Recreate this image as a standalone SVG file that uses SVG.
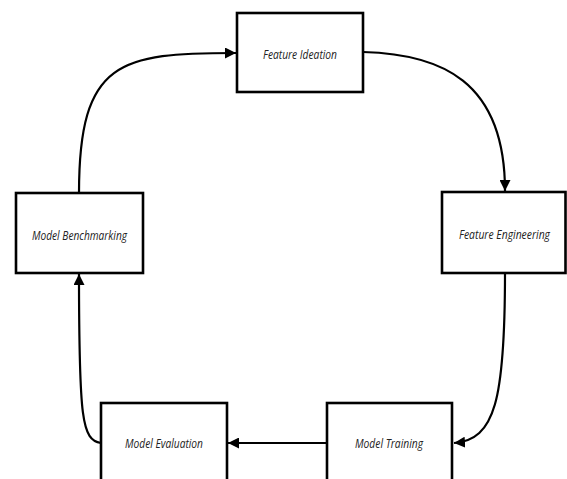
<svg xmlns="http://www.w3.org/2000/svg" width="567" height="479" viewBox="0 0 567 479">
<style>
.box{fill:#fff;stroke:#000;stroke-width:2.6}
.lbl{font-family:"Open Sans","DejaVu Sans",sans-serif;font-style:italic;font-size:13px;fill:#222;text-anchor:middle}
.con{fill:none;stroke:#000;stroke-width:2.2}
</style>
<defs>
<marker id="ah" viewBox="0 0 10 10" refX="10" refY="5" markerWidth="5" markerHeight="5" orient="auto" markerUnits="strokeWidth">
<path d="M0,0 L10,5 L0,10 z" fill="#000"/>
</marker>
</defs>
<rect width="567" height="479" fill="#fff"/>
<g id="connectors">
<path class="con" d="M79,193 C79,60 120,53 236,53" marker-end="url(#ah)"/>
<path class="con" d="M363,52 C440,54 505,80 505,191" marker-end="url(#ah)"/>
<path class="con" d="M505,273 C505,400 495,440 454,443" marker-end="url(#ah)"/>
<path class="con" d="M327,443 L228,443" marker-end="url(#ah)"/>
<path class="con" d="M101,443 C82,440 79,420 79,274" marker-end="url(#ah)"/>
</g>
<g id="feature-ideation">
<rect class="box" x="237" y="13" width="126" height="79"/>
<text class="lbl" x="300" y="59" textLength="74" lengthAdjust="spacingAndGlyphs">Feature Ideation</text>
</g>
<g id="feature-engineering">
<rect class="box" x="442" y="192" width="123.5" height="81"/>
<text class="lbl" x="504.5" y="239" textLength="91" lengthAdjust="spacingAndGlyphs">Feature Engineering</text>
</g>
<g id="model-training">
<rect class="box" x="327" y="403" width="125" height="90"/>
<text class="lbl" x="389" y="448" textLength="68" lengthAdjust="spacingAndGlyphs">Model Training</text>
</g>
<g id="model-evaluation">
<rect class="box" x="101" y="403" width="126" height="90"/>
<text class="lbl" x="164" y="448" textLength="78" lengthAdjust="spacingAndGlyphs">Model Evaluation</text>
</g>
<g id="model-benchmarking">
<rect class="box" x="16" y="193" width="127" height="80"/>
<text class="lbl" x="79.5" y="240" textLength="95" lengthAdjust="spacingAndGlyphs">Model Benchmarking</text>
</g>
</svg>
